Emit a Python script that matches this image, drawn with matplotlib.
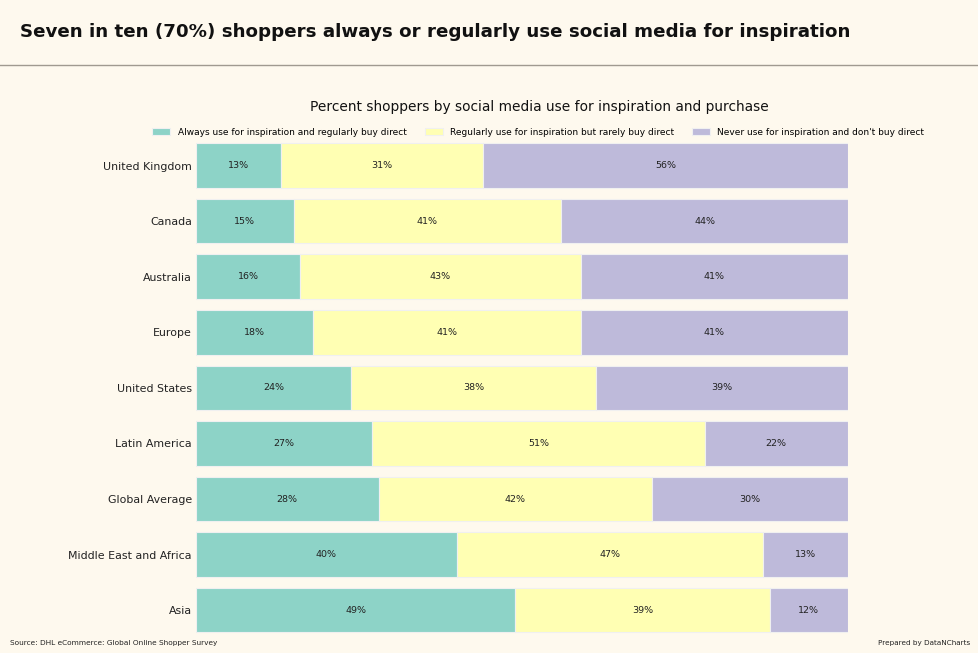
import numpy as np
import matplotlib.pyplot as plt
from matplotlib.lines import Line2D

regions = ['United Kingdom', 'Canada', 'Australia', 'Europe', 'United States',
           'Latin America', 'Global Average', 'Middle East and Africa', 'Asia']
always = [13, 15, 16, 18, 24, 27, 28, 40, 49]
regularly = [31, 41, 43, 41, 38, 51, 42, 47, 39]
never = [56, 44, 41, 41, 39, 22, 30, 13, 12]
series_names = ['Always use for inspiration and regularly buy direct',
                'Regularly use for inspiration but rarely buy direct',
                "Never use for inspiration and don't buy direct"]
colors = ['#8dd3c7', '#ffffb3', '#bebada']
bg = '#fef9ee'

data = np.array([always, regularly, never], dtype=float)
shares = data / data.sum(axis=0) * 100  # stack to full width

fig = plt.figure(figsize=(9.79, 6.53), dpi=100, facecolor=bg)
ax = fig.add_axes([0.2002, 0.023, 0.666, 0.766], facecolor=bg)

y = np.arange(len(regions))
left = np.zeros(len(regions))
for i in range(3):
    bars = ax.barh(y, shares[i], left=left, height=0.8, color=colors[i],
                   edgecolor='#f0f0f0', linewidth=0.8, label=series_names[i])
    for j, b in enumerate(bars):
        ax.text(left[j] + shares[i][j] / 2, y[j], f'{int(data[i][j])}%',
                ha='center', va='center', fontsize=6.8, color='#222222')
    left += shares[i]

ax.set_xlim(0, 100)
ax.set_ylim(len(regions) - 0.5, -0.5)
ax.set_yticks(y)
ax.set_yticklabels(regions, fontsize=7.9, color='#222222')
ax.set_xticks([])
ax.tick_params(axis='y', length=0, pad=3)
for s in ax.spines.values():
    s.set_visible(False)

ax.legend(loc='lower center', bbox_to_anchor=(0.525, 0.995), ncol=3, frameon=False,
          fontsize=6.5, handlelength=2.0, handleheight=0.8, columnspacing=2.0,
          borderaxespad=0)

fig.text(0.5505, 0.836, 'Percent shoppers by social media use for inspiration and purchase',
         ha='center', va='center', fontsize=9.9, color='#111111')
fig.text(0.02, 0.951, 'Seven in ten (70%) shoppers always or regularly use social media for inspiration',
         ha='left', va='center', fontsize=13.15, fontweight='bold', color='#111111')
fig.add_artist(Line2D([0, 1], [0.9, 0.9], color='#a09a90', linewidth=1,
                      transform=fig.transFigure))
fig.text(0.01, 0.016, 'Source: DHL eCommerce: Global Online Shopper Survey',
         ha='left', va='center', fontsize=5.3, color='#222222')
fig.text(0.991, 0.016, 'Prepared by DataNCharts',
         ha='right', va='center', fontsize=5.2, color='#222222')

fig.savefig('out.png', dpi=100, facecolor=bg)
